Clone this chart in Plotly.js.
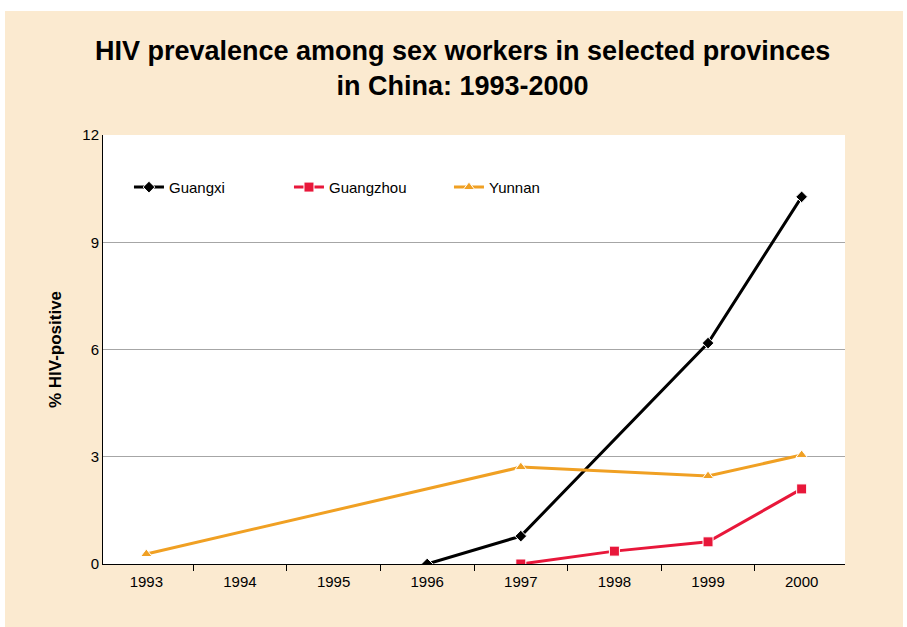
<!DOCTYPE html>
<html>
<head>
<meta charset="utf-8">
<script src="https://cdn.plot.ly/plotly-3.0.1.min.js"></script>
<style>
html,body{margin:0;padding:0;background:#ffffff;width:907px;height:627px;overflow:hidden;}
#bg{position:absolute;left:5px;top:11px;width:898px;height:616px;background:#FBEAD0;}
#chart{position:absolute;left:0;top:0;width:907px;height:627px;}
</style>
</head>
<body>
<div id="bg"></div>
<div id="chart"></div>
<script>
const years = ['1993','1994','1995','1996','1997','1998','1999','2000'];
const guangxi   = [null, null, null, 0,    0.78, null, 6.18, 10.27];
const guangzhou = [null, null, null, null, 0,    0.36, 0.62, 2.1];
const yunnan    = [0.28, null, null, null, 2.71, null, 2.46, 3.05];
const yTicks = [0, 3, 6, 9, 12];

const fontFam = '"Liberation Sans", Arial, sans-serif';

const traces = [
  {x: years, y: guangxi, name: 'Guangxi', type: 'scatter', mode: 'lines+markers', connectgaps: true,
   line: {color: '#000000', width: 3},
   marker: {symbol: 'diamond', size: 9, color: '#000000', line: {color: '#ffffff', width: 1}}},
  {x: years, y: guangzhou, name: 'Guangzhou', type: 'scatter', mode: 'lines+markers', connectgaps: true,
   line: {color: '#E8173A', width: 3},
   marker: {symbol: 'square', size: 10, color: '#E8173A', line: {color: '#ffffff', width: 1}}},
  {x: years, y: yunnan, name: 'Yunnan', type: 'scatter', mode: 'lines+markers', connectgaps: true,
   line: {color: '#F0A023', width: 3},
   marker: {symbol: 'triangle-up', size: 10, color: '#F0A023', line: {color: '#ffffff', width: 1}}}
];

const layout = {
  width: 907, height: 627,
  paper_bgcolor: 'rgba(0,0,0,0)',
  plot_bgcolor: '#ffffff',
  margin: {l: 103, r: 62, t: 135, b: 63},
  title: {text: '<b>HIV prevalence among sex workers in selected provinces<br>in China: 1993-2000</b>',
          x: 0.51, xanchor: 'center', y: 0.905, yanchor: 'top',
          font: {family: fontFam, size: 27, color: '#000000'}},
  xaxis: {type: 'category', tickson: 'boundaries', ticks: 'outside', ticklen: 6, tickcolor: '#000000',
          showline: true, linecolor: '#000000', linewidth: 1, showgrid: false, zeroline: false,
          ticklabelstandoff: 4,
          tickfont: {family: fontFam, size: 15, color: '#000000'}, fixedrange: true},
  yaxis: {range: [0, 12], tickvals: yTicks, ticktext: yTicks.map(String), ticks: '',
          showline: true, linecolor: '#000000', linewidth: 1,
          showgrid: true, gridcolor: '#A6A6A6', gridwidth: 1, zeroline: false,
          tickfont: {family: fontFam, size: 15, color: '#000000'},
          title: {text: '<b>% HIV-positive</b>', standoff: 16,
                  font: {family: fontFam, size: 17, color: '#000000'}}},
  showlegend: true,
  legend: {orientation: 'h', x: 0.035, y: 0.878, xanchor: 'left', yanchor: 'middle',
           entrywidth: 115, entrywidthmode: 'pixels', bgcolor: 'rgba(0,0,0,0)',
           font: {family: fontFam, size: 15, color: '#000000'}}
};

Plotly.newPlot('chart', traces, layout, {displayModeBar: false, staticPlot: true});
</script>
</body>
</html>
